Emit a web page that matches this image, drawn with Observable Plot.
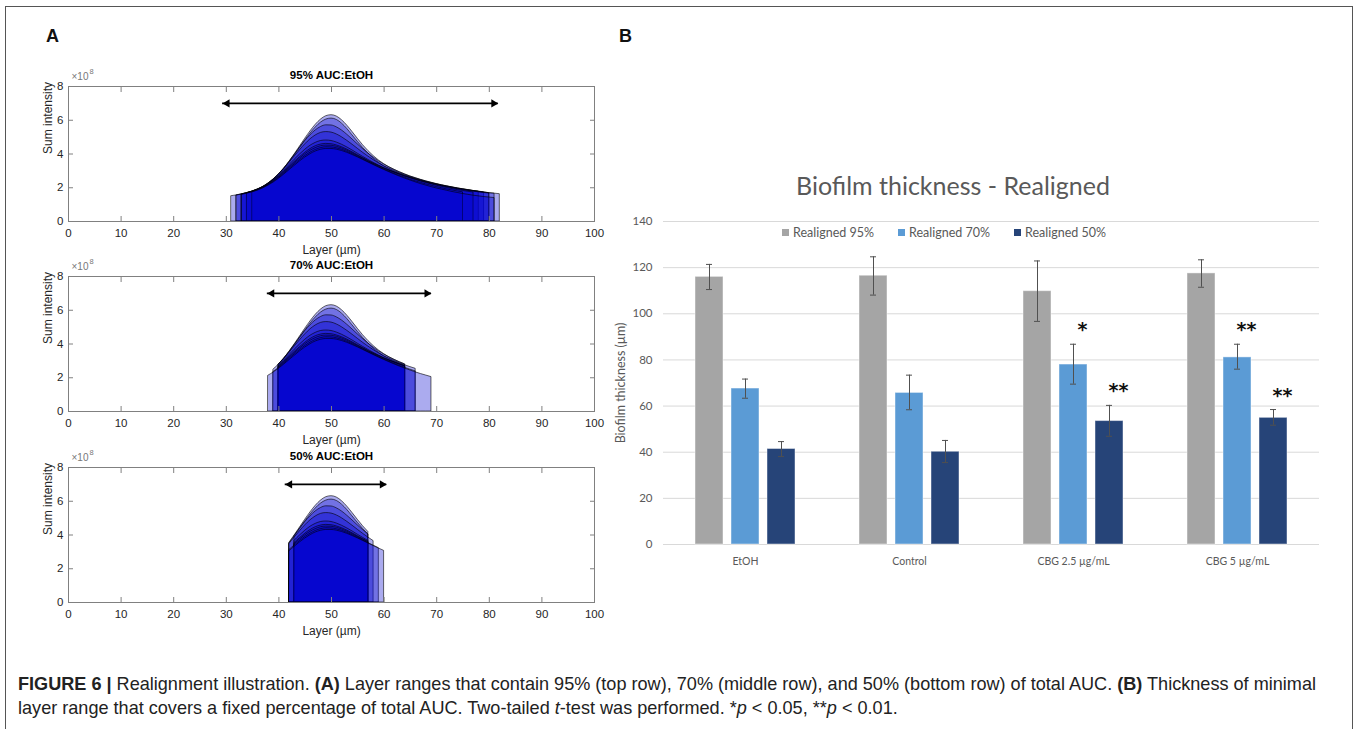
<!DOCTYPE html>
<html><head><meta charset="utf-8">
<script src="https://cdn.jsdelivr.net/npm/d3@7"></script>
<script src="https://cdn.jsdelivr.net/npm/@observablehq/plot@0.6"></script>
<style>
body{margin:0;background:#fff;}
#root{position:relative;width:1357px;height:729px;overflow:hidden;font-family:"Liberation Sans",Arial,sans-serif;background:#fff;}
#frame{position:absolute;left:5px;top:6px;width:1348px;height:800px;border:1px solid #555;box-sizing:border-box;}
.letter{position:absolute;font-weight:bold;font-size:18px;color:#111;}
#titleB{position:absolute;left:653px;width:600px;top:170px;text-align:center;font-family:Lato,"Open Sans",sans-serif;font-size:25px;color:#595959;}
#legendB{position:absolute;left:782px;top:225px;display:flex;gap:24px;font-family:Lato,"Open Sans",sans-serif;font-size:12.5px;color:#595959;}
#legendB span.item{display:flex;align-items:center;gap:4px;}
#legendB span.sw{display:inline-block;width:7px;height:7px;}
#ylabB{position:absolute;left:521px;top:374px;width:200px;height:18px;line-height:18px;text-align:center;transform:rotate(-90deg);font-family:Lato,"Open Sans",sans-serif;font-size:12.5px;color:#595959;}
#caption{position:absolute;left:18px;top:672px;font-size:18.1px;line-height:24px;color:#222;white-space:nowrap;}
</style></head><body><div id="root"><div id="frame"></div>
<div class="letter" style="left:46px;top:26px">A</div>
<div class="letter" style="left:619px;top:26px">B</div>
</div>
<script>
// ---------- Panel A data ----------
const layers = [30,31,32,33,34,35,36,37,38,39,40,41,42,43,44,45,46,47,48,49,50,51,52,53,54,55,56,57,58,59,60,61,62,63,64,65,66,67,68,69,70,71,72,73,74,75,76,77,78,79,80,81,82];
const curve1 = [1.45,1.50,1.55,1.61,1.68,1.77,1.89,2.04,2.24,2.49,2.79,3.14,3.54,3.98,4.44,4.90,5.34,5.73,6.04,6.24,6.30,6.22,6.00,5.68,5.30,4.90,4.52,4.18,3.88,3.62,3.40,3.21,3.05,2.91,2.78,2.66,2.56,2.46,2.37,2.29,2.21,2.14,2.08,2.02,1.96,1.91,1.86,1.81,1.77,1.73,1.69,1.66,1.63];
const curve2 = [1.45,1.49,1.54,1.60,1.67,1.76,1.88,2.03,2.23,2.48,2.78,3.12,3.51,3.93,4.37,4.80,5.21,5.57,5.86,6.04,6.10,6.02,5.80,5.48,5.10,4.72,4.36,4.03,3.73,3.48,3.26,3.08,2.93,2.80,2.68,2.58,2.48,2.39,2.31,2.23,2.16,2.10,2.04,1.98,1.93,1.88,1.83,1.79,1.75,1.71,1.67,1.64,1.61];
const curve3 = [1.45,1.50,1.55,1.61,1.69,1.78,1.90,2.05,2.25,2.50,2.80,3.14,3.53,3.94,4.36,4.76,5.11,5.40,5.60,5.70,5.69,5.58,5.39,5.14,4.86,4.57,4.29,4.03,3.79,3.57,3.38,3.21,3.06,2.92,2.79,2.67,2.57,2.47,2.38,2.30,2.22,2.15,2.08,2.02,1.96,1.91,1.86,1.81,1.77,1.73,1.69,1.66,1.63];
const curve4 = [1.45,1.50,1.55,1.61,1.69,1.78,1.90,2.05,2.25,2.49,2.78,3.11,3.47,3.85,4.22,4.57,4.87,5.10,5.25,5.30,5.27,5.16,4.99,4.78,4.55,4.31,4.07,3.85,3.64,3.45,3.28,3.13,2.99,2.86,2.74,2.63,2.53,2.44,2.35,2.27,2.20,2.13,2.07,2.01,1.95,1.90,1.85,1.80,1.76,1.72,1.68,1.65,1.62];
const curve5 = [1.45,1.50,1.55,1.61,1.68,1.77,1.89,2.03,2.22,2.45,2.72,3.02,3.34,3.66,3.97,4.25,4.49,4.66,4.77,4.80,4.77,4.68,4.55,4.39,4.21,4.02,3.83,3.65,3.48,3.32,3.17,3.04,2.92,2.81,2.70,2.60,2.51,2.42,2.34,2.26,2.19,2.12,2.06,2.00,1.94,1.89,1.84,1.80,1.76,1.72,1.68,1.65,1.62];
const curve6 = [1.45,1.50,1.55,1.61,1.68,1.77,1.88,2.02,2.20,2.42,2.67,2.95,3.24,3.53,3.81,4.07,4.29,4.46,4.56,4.60,4.58,4.51,4.40,4.26,4.10,3.93,3.76,3.59,3.43,3.28,3.14,3.01,2.89,2.78,2.67,2.57,2.48,2.39,2.31,2.23,2.16,2.09,2.03,1.97,1.91,1.86,1.81,1.77,1.73,1.69,1.66,1.63,1.60];
const curve7 = [1.44,1.49,1.54,1.60,1.67,1.76,1.87,2.01,2.18,2.39,2.63,2.90,3.18,3.46,3.73,3.98,4.19,4.35,4.46,4.50,4.49,4.43,4.33,4.20,4.05,3.89,3.73,3.57,3.42,3.28,3.14,3.01,2.89,2.77,2.66,2.56,2.46,2.37,2.28,2.20,2.12,2.05,1.98,1.92,1.86,1.81,1.76,1.72,1.68,1.64,1.61,1.58,1.55];
const curve8 = [1.43,1.48,1.53,1.59,1.66,1.74,1.85,1.98,2.15,2.35,2.58,2.84,3.11,3.38,3.64,3.88,4.08,4.24,4.35,4.40,4.39,4.34,4.25,4.13,3.99,3.84,3.68,3.52,3.37,3.22,3.08,2.95,2.82,2.70,2.59,2.48,2.38,2.29,2.20,2.12,2.04,1.97,1.90,1.84,1.78,1.73,1.68,1.64,1.60,1.56,1.53,1.50,1.47];
const curve9 = [1.42,1.47,1.52,1.58,1.65,1.73,1.83,1.96,2.12,2.31,2.53,2.78,3.04,3.30,3.56,3.79,3.99,4.15,4.25,4.30,4.30,4.26,4.18,4.07,3.94,3.80,3.65,3.50,3.35,3.20,3.06,2.92,2.79,2.66,2.54,2.43,2.32,2.22,2.13,2.04,1.96,1.89,1.82,1.75,1.69,1.63,1.58,1.53,1.49,1.45,1.42,1.39,1.36];
const curves = [curve1, curve2, curve3, curve4, curve5, curve6, curve7, curve8, curve9];

// layer ranges per curve (µm)
const start95 = [33,32,34,31,32,33,34,35,33];
const end95   = [79,80,78,82,81,80,77,75,81];
const start70 = [40,40,40,39,40,40,40,39,38];
const end70   = [64,64,64,66,64,64,64,66,69];
const start50 = [42,42,43,42,43,43,43,42,42];
const end50   = [57,57,57,58,57,57,57,59,60];
const arrow95 = [29.3, 81.7];
const arrow70 = [37.8, 69.0];
const arrow50 = [41.2, 60.5];
const arrowLevel = 7.0;
const titlesA = ["95% AUC:EtOH", "70% AUC:EtOH", "50% AUC:EtOH"];
const xTicksA = [0,10,20,30,40,50,60,70,80,90,100];
const yTicksA = [0,2,4,6,8];
const xLabelA = "Layer (\u00b5m)";
const yLabelA = "Sum intensity";
const expBaseA = "\u00d710";
const expPowA = "8";

// ---------- Panel B data ----------
const groups = ["EtOH", "Control", "CBG 2.5 \u00b5g/mL", "CBG 5 \u00b5g/mL"];
const series = ["Realigned 95%", "Realigned 70%", "Realigned 50%"];
const seriesColors = ["#a5a5a5", "#5b9bd5", "#264478"];
const mean95 = [116.0, 116.5, 109.8, 117.5];
const low95  = [110.5, 108.1, 96.7, 111.5];
const high95 = [121.4, 124.7, 122.9, 123.4];
const mean70 = [67.6, 65.7, 78.0, 81.1];
const low70  = [63.4, 58.4, 69.5, 76.0];
const high70 = [71.7, 73.4, 86.8, 86.8];
const mean50 = [41.4, 40.2, 53.5, 54.9];
const low50  = [38.1, 35.5, 46.9, 51.7];
const high50 = [44.6, 45.1, 60.3, 58.5];
const sig95 = ["", "", "", ""];
const sig70 = ["", "", "*", "**"];
const sig50 = ["", "", "**", "**"];
const yTicksB = [0,20,40,60,80,100,120,140];
const titleB = "Biofilm thickness - Realigned";
const yLabelB = "Biofilm thickness (\u00b5m)";

const root = document.getElementById("root");
const fontA = "'Liberation Sans', Arial, sans-serif";

function panelA(title, starts, ends, arrow, top) {
  const rows = curves.flatMap((vals, i) =>
    layers.map((l, j) => ({curve: i, layer: l, value: vals[j]}))
          .filter(d => d.layer >= starts[i] && d.layer <= ends[i]));
  const arrowRow = [{x1: arrow[0], x2: arrow[1], y: arrowLevel}];
  const p = Plot.plot({
    width: 620, height: 196,
    marginLeft: 68, marginRight: 26, marginTop: 26, marginBottom: 35,
    style: {background: "transparent", overflow: "visible", fontFamily: fontA, fontSize: "11.5px", color: "#262626", maxWidth: "none"},
    x: {domain: [0, 100]},
    y: {domain: [0, 8]},
    marks: [
      Plot.areaY(rows, {x: "layer", y1: 0, y2: "value", z: "curve", fill: "#0000cd", fillOpacity: 0.33, stroke: "#000", strokeWidth: 0.8, strokeOpacity: 0.75, curve: "monotone-x"}),
      Plot.frame({stroke: "#808080"}),
      Plot.axisX({ticks: xTicksA, tickSize: -5, tickPadding: 12, stroke: "#808080", fill: "#262626", label: null}),
      Plot.axisX({anchor: "top", ticks: xTicksA, tickSize: -5, tickFormat: () => "", stroke: "#808080", label: null}),
      Plot.axisY({ticks: yTicksA, tickSize: -5, tickPadding: 10, stroke: "#808080", fill: "#262626", label: null}),
      Plot.axisY({anchor: "right", ticks: yTicksA, tickSize: -5, tickFormat: () => "", stroke: "#808080", label: null}),
      Plot.ruleY(arrowRow, {x1: "x1", x2: "x2", y: "y", stroke: "#000", strokeWidth: 1.6}),
      Plot.dot(arrowRow, {x: "x1", y: "y", symbol: "triangle", r: 3, rotate: -90, fill: "#000", stroke: null, dx: 4.6}),
      Plot.dot(arrowRow, {x: "x2", y: "y", symbol: "triangle", r: 3, rotate: 90, fill: "#000", stroke: null, dx: -4.6}),
      Plot.text([title], {frameAnchor: "top", dy: -16, fontWeight: "bold", fontSize: 11.5, fill: "#000"}),
      Plot.text([expBaseA], {frameAnchor: "top-left", dy: -14, dx: 3, textAnchor: "start", fontSize: 10, fill: "#777"}),
      Plot.text([expPowA], {frameAnchor: "top-left", dy: -18, dx: 21, textAnchor: "start", fontSize: 7.5, fill: "#777"}),
      Plot.text([xLabelA], {frameAnchor: "bottom", dy: 32, fontSize: 12, fill: "#262626"}),
      Plot.text([yLabelA], {frameAnchor: "left", dx: -20, rotate: -90, fontSize: 12, fill: "#262626"})
    ]
  });
  p.style.position = "absolute";
  p.style.left = "0px";
  p.style.top = top + "px";
  root.appendChild(p);
}
panelA(titlesA[0], start95, end95, arrow95, 60);
panelA(titlesA[1], start70, end70, arrow70, 250);
panelA(titlesA[2], start50, end50, arrow50, 441);

// ---------- Panel B ----------
const meansB = [mean95, mean70, mean50];
const lowsB = [low95, low70, low50];
const highsB = [high95, high70, high50];
const sigsB = [sig95, sig70, sig50];
const rowsB = groups.flatMap((g, gi) => series.map((s, si) => ({
  group: g, series: s, value: meansB[si][gi], lo: lowsB[si][gi], hi: highsB[si][gi], sig: sigsB[si][gi]
})));
const fontB = "Lato, 'Open Sans', sans-serif";
const pb = Plot.plot({
  width: 749, height: 374,
  marginLeft: 63, marginRight: 30, marginTop: 21, marginBottom: 30,
  style: {background: "transparent", overflow: "visible", fontFamily: fontB, fontSize: "11px", color: "#595959", maxWidth: "none"},
  fx: {domain: groups, padding: 0},
  x: {domain: series, paddingInner: 0.22, paddingOuter: 0.87, axis: null},
  y: {domain: [0, 140]},
  color: {domain: series, range: seriesColors},
  marks: [
    Plot.gridY(yTicksB, {stroke: "#d9d9d9", strokeOpacity: 1, strokeWidth: 1}),
    Plot.barY(rowsB, {fx: "group", x: "series", y: "value", fill: "series", stroke: "#ffffff", strokeOpacity: 0.45, strokeWidth: 1}),
    Plot.ruleX(rowsB, {fx: "group", x: "series", y1: "lo", y2: "hi", stroke: "#505050", strokeWidth: 1}),
    Plot.tickY(rowsB, {fx: "group", x: "series", y: "hi", stroke: "#505050", strokeWidth: 1, insetLeft: 11, insetRight: 11}),
    Plot.tickY(rowsB, {fx: "group", x: "series", y: "lo", stroke: "#505050", strokeWidth: 1, insetLeft: 11, insetRight: 11}),
    Plot.text(rowsB.filter(d => d.sig), {fx: "group", x: "series", y: "hi", text: "sig", dy: -14, dx: 9, fontSize: 19, fontWeight: "bold", fill: "#111", fontFamily: "'DejaVu Sans', sans-serif"}),
    Plot.axisY({ticks: yTicksB, tickSize: 0, tickPadding: 11, label: null, fontSize: 11.5, fill: "#595959"}),
    Plot.axisFx({anchor: "bottom", tickSize: 0, tickPadding: 13, label: null, fontSize: 10.5, fill: "#595959"})
  ]
});
pb.style.position = "absolute";
pb.style.left = "600px";
pb.style.top = "200px";
root.appendChild(pb);

const yl = document.createElement("div");
yl.id = "ylabB"; yl.textContent = yLabelB; root.appendChild(yl);

const tb = document.createElement("div");
tb.id = "titleB"; tb.textContent = titleB; root.appendChild(tb);

const lg = document.createElement("div");
lg.id = "legendB";
series.forEach((s, i) => {
  const it = document.createElement("span"); it.className = "item";
  const sw = document.createElement("span"); sw.className = "sw"; sw.style.background = seriesColors[i];
  const tx = document.createElement("span"); tx.textContent = s;
  it.appendChild(sw); it.appendChild(tx); lg.appendChild(it);
});
root.appendChild(lg);

const cap = document.createElement("div");
cap.id = "caption";
cap.innerHTML = "<b>FIGURE 6 |</b> Realignment illustration. <b>(A)</b> Layer ranges that contain 95% (top row), 70% (middle row), and 50% (bottom row) of total AUC. <b>(B)</b> Thickness of minimal<br>layer range that covers a fixed percentage of total AUC. Two-tailed <i>t</i>-test was performed. *<i>p</i> &lt; 0.05, **<i>p</i> &lt; 0.01.";
root.appendChild(cap);
</script>
</body></html>
